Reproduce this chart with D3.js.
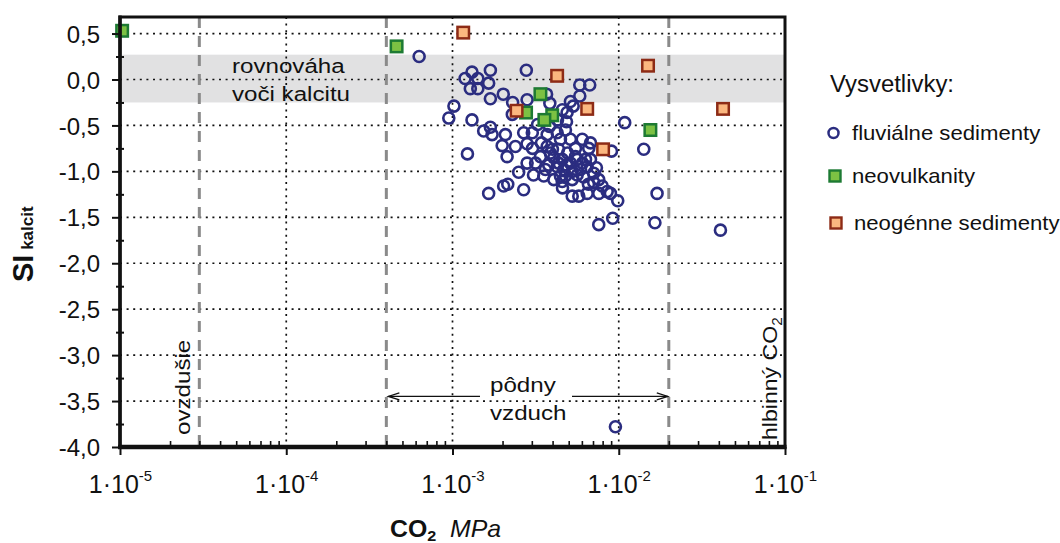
<!DOCTYPE html>
<html><head><meta charset="utf-8">
<script src="https://cdn.jsdelivr.net/npm/d3@7"></script>
<style>
body{margin:0;background:#fff;}
svg{display:block;font-family:"Liberation Sans",Arial,Helvetica,sans-serif;}
</style></head><body>
<svg id="chart" width="1060" height="543"></svg>
<script>
// fluviálne sedimenty: parciálny tlak CO2 (MPa) a index nasýtenia voči kalcitu
const fluvialCO2 = [0.00063,0.00119,0.00131,0.00142,0.00128,0.00142,0.00169,0.00165,0.00278,0.00169,
  0.00202,0.00230,0.00281,0.00368,0.00385,0.00583,0.00669,0.00583,0.00512,0.00532,
  0.00489,0.00229,0.00102,0.00095,0.00131,0.00485,0.01086,0.00154,0.00169,0.00173,
  0.00208,0.00268,0.00302,0.00371,0.00426,0.00478,0.00199,0.00239,0.00281,0.00123,
  0.00213,0.00603,0.00676,0.00660,0.00549,0.00904,0.01414,0.00371,0.00388,0.00338,
  0.00407,0.00457,0.00512,0.00562,0.00631,0.00646,0.00589,0.00525,0.00467,0.00426,
  0.00379,0.00316,0.00281,0.00250,0.00354,0.00407,0.00457,0.00525,0.00562,0.00707,
  0.00758,0.00795,0.00758,0.00852,0.00891,0.00525,0.00575,0.00646,0.00986,0.00165,
  0.00203,0.00215,0.00268,0.0170,0.00758,0.00920,0.0165,0.0409,0.00955,0.00303,
  0.00343,0.00434,0.00485,0.00614,0.00446,0.00307,0.00707,0.00446,0.00512,0.00383,
  0.00428,0.00458,0.00325,0.00492,0.00549,0.00605,0.00676,0.00434,0.00478,0.00362,
  0.00399,0.00734,0.00657,0.00459];
const fluvialSI = [0.25,0.01,0.08,0.01,-0.10,-0.10,0.10,-0.04,0.10,-0.21,
  -0.16,-0.25,-0.22,-0.16,-0.26,-0.06,-0.06,-0.18,-0.24,-0.29,
  -0.36,-0.38,-0.29,-0.42,-0.44,-0.46,-0.47,-0.56,-0.52,-0.60,
  -0.60,-0.58,-0.58,-0.60,-0.58,-0.55,-0.72,-0.73,-0.70,-0.81,
  -0.84,-0.65,-0.69,-0.75,-0.75,-0.78,-0.76,-0.73,-0.80,-0.84,
  -0.85,-0.87,-0.91,-0.87,-0.87,-0.95,-0.98,-1.00,-0.98,-0.95,
  -0.93,-0.91,-0.91,-1.01,-1.05,-1.09,-1.11,-1.09,-1.04,-1.02,
  -1.09,-1.16,-1.24,-1.22,-1.24,-1.27,-1.27,-1.24,-1.32,-1.24,
  -1.16,-1.14,-1.20,-1.24,-1.58,-1.51,-1.56,-1.64,-3.78,-0.75,
  -0.69,-0.76,-0.93,-1.06,-1.05,-1.04,-1.12,-0.65,-0.65,-0.51,
  -0.44,-0.33,-0.49,-0.80,-0.84,-0.91,-0.87,-0.91,-1.05,-0.98,
  -0.76,-0.96,-1.14,-1.18];

// neovulkanity
const volcanicCO2 = [1.03e-5,4.61e-4,0.00338,0.00277,0.00398,0.00357,0.0155];
const volcanicSI  = [0.53,0.36,-0.16,-0.36,-0.39,-0.44,-0.55];

// neogénne sedimenty
const neogeneCO2 = [0.00116,0.00426,0.0150,0.0424,0.00646,0.00243,0.00805];
const neogeneSI  = [0.51,0.04,0.15,-0.32,-0.32,-0.34,-0.76];

// osi
const yTicks = [0.5,0,-0.5,-1,-1.5,-2,-2.5,-3,-3.5,-4];
const yMinorTicks = [0.25,-0.25,-0.75,-1.25,-1.75,-2.25,-2.75,-3.25,-3.75];
const xTicks = [1e-5,1e-4,1e-3,1e-2,1e-1];
const xTickExponents = ["-5","-4","-3","-2","-1"];
const xMinorTicks = [1e-5,1e-4,1e-3,1e-2].flatMap(d => [2,3,4,5,6,7,8,9].map(k => k*d));

// hranice prostredí (MPa) a pásmo rovnováhy (SI)
const boundaryCO2 = [3e-5, 4e-4, 2e-2];
const equilibriumBand = [-0.25, 0.27];
const soilArrowSI = -3.45;

const legendLabels = ["fluviálne sedimenty","neovulkanity","neogénne sedimenty"];

const svg = d3.select("#chart");
const pLeft = 120, pRight = 785, pTop = 17, pBottom = 447;
const x = d3.scaleLog().domain([1e-5, 1e-1]).range([pLeft, pRight]);
const y = d3.scaleLinear().domain([-4, 0.68]).range([pBottom, pTop]);

const navy = "#2b2d80", ink = "#111";
const greenFill = "#7cc143", greenStroke = "#1d7a33";
const orangeFill = "#fbb77f", orangeStroke = "#8d2b16";

// text helper with optional horizontal stretch and rotation
function label(parent, px, py, opts) {
  const g = parent.append("g")
    .attr("transform", `translate(${px},${py}) rotate(${opts.rotate||0}) scale(${opts.sx||1},1)`);
  const t = g.append("text")
    .attr("text-anchor", opts.anchor || "start")
    .attr("font-size", opts.size || 20)
    .attr("font-weight", opts.weight || "normal")
    .attr("fill", ink);
  if (opts.text) t.text(opts.text);
  return t;
}

// equilibrium band
svg.append("rect")
  .attr("x", pLeft).attr("width", pRight-pLeft)
  .attr("y", y(equilibriumBand[1]))
  .attr("height", y(equilibriumBand[0]) - y(equilibriumBand[1]))
  .attr("fill", "#e1e1e2");

// dotted grid
const grid = svg.append("g").attr("stroke", ink).attr("stroke-width", 1.7)
  .attr("stroke-dasharray", "2,4.6");
grid.selectAll(".gy").data(yTicks.filter(v => v > -4)).join("line")
  .attr("x1", pLeft).attr("x2", pRight).attr("y1", d => y(d)).attr("y2", d => y(d));
grid.selectAll(".gx").data(xTicks.slice(1, -1)).join("line")
  .attr("y1", pTop).attr("y2", pBottom).attr("x1", d => x(d)).attr("x2", d => x(d));

// dashed environment boundaries
svg.append("g").selectAll("line").data(boundaryCO2).join("line")
  .attr("x1", d => x(d)).attr("x2", d => x(d)).attr("y1", pTop).attr("y2", pBottom)
  .attr("stroke", "#8a8a8a").attr("stroke-width", 3).attr("stroke-dasharray", "11,8");

// annotations
const ann = svg.append("g");
label(ann, 232, 73, {text:"rovnováha", size:21, sx:1.15});
label(ann, 232, 101, {text:"voči kalcitu", size:21, sx:1.15});
label(ann, x(boundaryCO2[0]) - 9, 435, {text:"ovzdušie", size:21, sx:1.15, rotate:-90});
label(ann, 490, 392, {text:"pôdny", size:21, sx:1.15});
label(ann, 490, 420, {text:"vzduch", size:21, sx:1.15});
const hl = label(ann, 777, 440, {size:21, sx:1.1, rotate:-90});
hl.append("tspan").text("hlbinný CO");
hl.append("tspan").attr("font-size", 14).attr("dy", 5).text("2");

// soil-air arrow with a gap for its label
const ay = y(soilArrowSI);
const arrow = svg.append("g").attr("stroke", ink).attr("stroke-width", 1.3).attr("fill", "none");
const ax0 = x(boundaryCO2[1]) + 2, ax1 = x(boundaryCO2[2]) - 1;
arrow.append("line").attr("x1", ax0).attr("x2", 480).attr("y1", ay).attr("y2", ay);
arrow.append("line").attr("x1", 572).attr("x2", ax1).attr("y1", ay).attr("y2", ay);
arrow.append("path").attr("d", `M${ax0+11},${ay-3.5} L${ax0},${ay} L${ax0+11},${ay+3.5}`);
arrow.append("path").attr("d", `M${ax1-11},${ay-3.5} L${ax1},${ay} L${ax1-11},${ay+3.5}`);

// data points
const fluvial = fluvialCO2.map((c, i) => [c, fluvialSI[i]]);
const volcanic = volcanicCO2.map((c, i) => [c, volcanicSI[i]]);
const neogene = neogeneCO2.map((c, i) => [c, neogeneSI[i]]);

svg.append("g").selectAll("circle").data(fluvial).join("circle")
  .attr("cx", d => x(d[0])).attr("cy", d => y(d[1])).attr("r", 5.5)
  .attr("fill", "none").attr("stroke", navy).attr("stroke-width", 2.6);

const sq = 11.5;
svg.append("g").selectAll("rect").data(volcanic).join("rect")
  .attr("x", d => x(d[0]) - sq/2).attr("y", d => y(d[1]) - sq/2)
  .attr("width", sq).attr("height", sq)
  .attr("fill", greenFill).attr("stroke", greenStroke).attr("stroke-width", 2.5);
svg.append("g").selectAll("rect").data(neogene).join("rect")
  .attr("x", d => x(d[0]) - sq/2).attr("y", d => y(d[1]) - sq/2)
  .attr("width", sq).attr("height", sq)
  .attr("fill", orangeFill).attr("stroke", orangeStroke).attr("stroke-width", 2.5);

// y axis
const fmt = d3.format(".1f");
const yAxis = svg.append("g").attr("transform", `translate(${pLeft},0)`)
  .call(d3.axisLeft(y).tickValues(yTicks).tickSize(8).tickPadding(12)
    .tickFormat(d => fmt(d).replace(".", ",").replace("−", "-")));
yAxis.select(".domain").remove();
yAxis.selectAll(".tick line").attr("stroke", ink).attr("stroke-width", 2);
yAxis.selectAll(".tick text").attr("font-size", 24).attr("fill", ink)
  .attr("font-family", "Liberation Sans, Arial, sans-serif").attr("dy", "0.36em");

const yMinor = svg.append("g").attr("transform", `translate(${pLeft+4},0)`)
  .call(d3.axisLeft(y).tickValues(yMinorTicks).tickSize(8).tickFormat(""));
yMinor.select(".domain").remove();
yMinor.selectAll(".tick line").attr("stroke", ink).attr("stroke-width", 2);

// x axis
const xAxis = svg.append("g").attr("transform", `translate(0,${pBottom})`)
  .call(d3.axisBottom(x).tickValues(xTicks).tickSize(8).tickFormat(""));
xAxis.select(".domain").remove();
xAxis.selectAll(".tick line").attr("stroke", ink).attr("stroke-width", 2);
xAxis.selectAll(".tick").each(function(d, i) {
  const t = d3.select(this).append("text")
    .attr("y", 46).attr("text-anchor", "middle").attr("fill", ink)
    .attr("font-size", 25).attr("font-family", "Liberation Sans, Arial, sans-serif");
  t.append("tspan").text("1·10");
  t.append("tspan").attr("font-size", 15).attr("dy", -12).text(xTickExponents[i]);
});

const xMinor = svg.append("g").attr("transform", `translate(0,${pBottom})`)
  .call(d3.axisBottom(x).tickValues(xMinorTicks).tickSize(-6).tickFormat(""));
xMinor.select(".domain").remove();
xMinor.selectAll(".tick line").attr("stroke", ink).attr("stroke-width", 1.6);

// plot frame
svg.append("rect").attr("x", pLeft).attr("y", pTop).attr("width", pRight-pLeft).attr("height", pBottom-pTop)
  .attr("fill", "none").attr("stroke", ink).attr("stroke-width", 3);
svg.append("line").attr("x1", pLeft-2).attr("x2", pRight+1.5).attr("y1", pBottom).attr("y2", pBottom)
  .attr("stroke", ink).attr("stroke-width", 4.5);
svg.append("line").attr("x1", pLeft).attr("x2", pLeft).attr("y1", pTop-1.5).attr("y2", pBottom)
  .attr("stroke", ink).attr("stroke-width", 3.5);

// axis titles
const yt = label(svg, 33, 282, {rotate:-90, weight:"bold", size:29});
yt.append("tspan").text("SI");
yt.append("tspan").attr("font-size", 17).text(" kalcit");

const xt = label(svg, 390, 537, {size:23, sx:1.08});
xt.append("tspan").attr("font-weight", "bold").text("CO");
xt.append("tspan").attr("font-weight", "bold").attr("font-size", 15).attr("dy", 4).text("2");
xt.append("tspan").attr("dy", -4).text("\u00a0 ");
xt.append("tspan").attr("font-style", "italic").text("MPa");

// legend
const lg = svg.append("g");
label(lg, 830, 92, {text:"Vysvetlivky:", size:23, sx:1.04});
const rows = [133, 176, 223];
lg.append("circle").attr("cx", 833.5).attr("cy", rows[0]).attr("r", 5)
  .attr("fill", "none").attr("stroke", navy).attr("stroke-width", 2.5);
lg.append("rect").attr("x", 835 - 5.5).attr("y", rows[1] - 5.5).attr("width", 11).attr("height", 11)
  .attr("fill", greenFill).attr("stroke", greenStroke).attr("stroke-width", 2.4);
lg.append("rect").attr("x", 836 - 5.5).attr("y", rows[2] - 5.5).attr("width", 11).attr("height", 11)
  .attr("fill", orangeFill).attr("stroke", orangeStroke).attr("stroke-width", 2.4);
legendLabels.forEach((s, i) => label(lg, i === 2 ? 854 : 852, rows[i] + 7, {text:s, size:20.5, sx:1.08}));
</script>
</body></html>
